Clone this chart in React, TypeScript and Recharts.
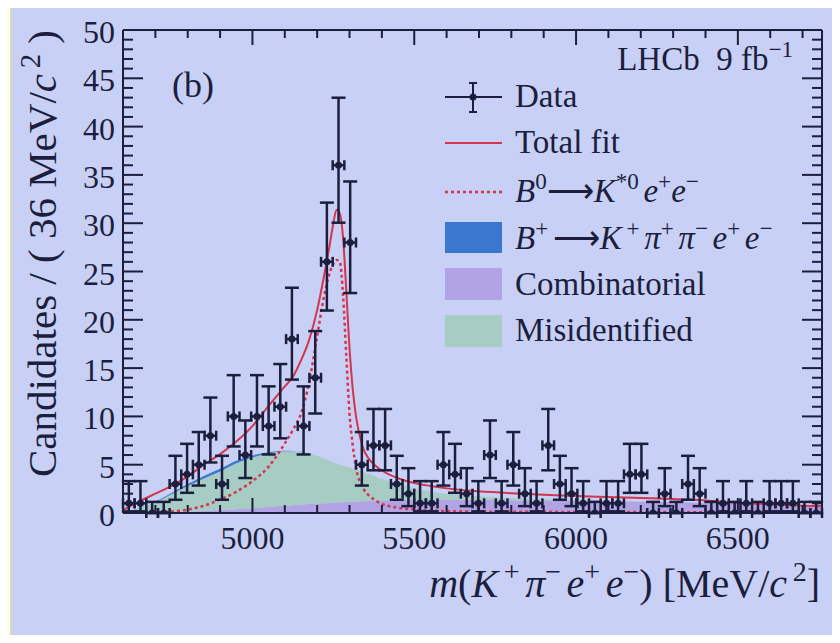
import React from 'react';
import { ComposedChart, XAxis, YAxis, Area, Line, Scatter, ErrorBar } from 'recharts';

// histogram: bin centres (36 MeV bins) and candidate counts
const binCenters = [
  4618, 4654, 4690, 4726, 4762, 4798, 4834, 4870, 4906, 4942,
  4978, 5014, 5050, 5086, 5122, 5158, 5194, 5230, 5266, 5302,
  5338, 5374, 5410, 5446, 5482, 5518, 5554, 5590, 5626, 5662,
  5698, 5734, 5770, 5806, 5842, 5878, 5914, 5950, 5986, 6022,
  6058, 6094, 6130, 6166, 6202, 6238, 6274, 6310, 6346, 6382,
  6418, 6454, 6490, 6526, 6562, 6598, 6634, 6670, 6706, 6742,
];
const counts = [
  1, 1, 0, 0, 3, 4, 5, 8, 3, 10,
  6, 10, 9, 11, 18, 9, 14, 26, 36, 28,
  5, 7, 7, 3, 2, 1, 1, 5, 4, 2,
  1, 6, 1, 5, 2, 1, 7, 3, 2, 1,
  0, 1, 1, 4, 4, 0, 2, 0, 3, 2,
  0, 1, 0, 1, 0, 1, 1, 1, 0, 0,
];
// 68% Poisson interval [low, high] per count, as drawn
const poisson68: Record<number, [number, number]> = {
  0: [0, 1.15], 1: [0.17, 3.3], 2: [0.71, 4.64], 3: [1.37, 5.92], 4: [2.09, 7.16],
  5: [2.84, 8.38], 6: [3.62, 9.58], 7: [4.42, 10.77], 8: [5.23, 11.95], 9: [6.06, 13.11],
  10: [6.89, 14.27], 11: [7.73, 15.42], 14: [10.3, 18.83], 18: [13.81, 23.32],
  26: [20.96, 32.13], 28: [22.77, 34.32], 36: [30.05, 42.99],
};

// fit curves sampled at these masses
const curveMass = [
  4600, 4650, 4700, 4750, 4800, 4850, 4900, 4950, 5000, 5050,
  5100, 5125, 5150, 5175, 5200, 5220, 5240, 5250, 5260, 5270,
  5280, 5290, 5300, 5310, 5320, 5340, 5360, 5380, 5400, 5450,
  5500, 5550, 5600, 5700, 5800, 5900, 6000, 6100, 6200, 6300,
  6400, 6500, 6600, 6700, 6760,
];
const totalFit = [
  0.3, 1.2, 2.0, 2.8, 3.8, 5.0, 6.1, 7.4, 9.0, 11.1,
  13.1, 14.1, 15.8, 17.9, 21.0, 24.3, 28.0, 30.0, 31.4, 31.0,
  28.5, 23.0, 17.0, 12.8, 10.0, 6.9, 5.6, 4.9, 4.4, 3.6,
  3.1, 2.8, 2.55, 2.25, 2.05, 1.9, 1.75, 1.65, 1.55, 1.45,
  1.3, 1.05, 0.9, 0.75, 0.7,
];
const signal = [
  0, 0, 0.05, 0.15, 0.35, 0.75, 1.4, 2.2, 3.3, 4.8,
  7.2, 8.6, 10.3, 13.5, 18.3, 22.2, 25.0, 25.8, 26.2, 26.0,
  22.5, 16.3, 10.3, 7.0, 4.7, 2.7, 1.8, 1.3, 0.95, 0.55,
  0.35, 0.25, 0.2, 0.15, 0.13, 0.12, 0.11, 0.1, 0.1, 0.09,
  0.09, 0.08, 0.08, 0.07, 0.07,
];
const combinatorial = [
  0, 0.02, 0.05, 0.1, 0.15, 0.22, 0.3, 0.4, 0.5, 0.62,
  0.75, 0.8, 0.86, 0.92, 0.97, 1.0, 1.04, 1.06, 1.08, 1.1,
  1.12, 1.14, 1.16, 1.17, 1.18, 1.22, 1.25, 1.27, 1.29, 1.32,
  1.34, 1.35, 1.36, 1.35, 1.33, 1.3, 1.27, 1.22, 1.16, 1.1,
  1.03, 0.96, 0.9, 0.84, 0.8,
];
const misidentified = [
  0, 0.45, 1.05, 1.85, 2.65, 3.35, 4.0, 4.75, 5.25, 5.55,
  5.65, 5.6, 5.45, 5.25, 4.95, 4.65, 4.35, 4.2, 4.05, 3.9,
  3.78, 3.66, 3.55, 3.43, 3.3, 3.05, 2.78, 2.5, 2.25, 1.7,
  1.22, 0.87, 0.6, 0.38, 0.22, 0.13, 0.08, 0.04, 0.02, 0,
  0, 0, 0, 0, 0,
];
const bplus = [
  0, 0.01, 0.05, 0.12, 0.2, 0.26, 0.28, 0.26, 0.2, 0.12,
  0.05, 0.03, 0.02, 0.01, 0, 0, 0, 0, 0, 0,
  0, 0, 0, 0, 0, 0, 0, 0, 0, 0,
  0, 0, 0, 0, 0, 0, 0, 0, 0, 0,
  0, 0, 0, 0, 0,
];

const xMajorTicks = [5000, 5500, 6000, 6500];
const xTicks = [
  4700, 4800, 4900, 5000, 5100, 5200, 5300, 5400, 5500, 5600, 5700,
  5800, 5900, 6000, 6100, 6200, 6300, 6400, 6500, 6600, 6700,
];
const yMajorTicks = [0, 5, 10, 15, 20, 25, 30, 35, 40, 45, 50];
const yTicks = Array.from({ length: 51 }, (_, i) => i);

const NAVY = '#1b1f3d';
const RED = '#d3354f';
const BG = '#c9d0f5';
const FONT = '"Liberation Serif", "Times New Roman", serif';

const curveRows = curveMass.map((m, i) => ({
  m,
  total: totalFit[i],
  sig: signal[i],
  comb: combinatorial[i],
  misid: misidentified[i],
  bplus: bplus[i],
}));

const points = binCenters.map((m, i) => {
  const n = counts[i];
  const [lo, hi] = poisson68[n];
  return { m, n, ey: [n - lo, hi - n], ex: 18 };
});

const BottomTick = (p: any) => {
  const major = xMajorTicks.includes(p.payload.value);
  return (
    <g>
      <line x1={p.x} x2={p.x} y1={p.y} y2={p.y - (major ? 15 : 8)} stroke={NAVY} strokeWidth={2} />
      {major && (
        <text x={p.x} y={p.y + 36} textAnchor="middle" fontSize={32} fontFamily={FONT} fill={NAVY}>
          {p.payload.value}
        </text>
      )}
    </g>
  );
};

const TopTick = (p: any) => {
  const major = xMajorTicks.includes(p.payload.value);
  return <line x1={p.x} x2={p.x} y1={p.y} y2={p.y + (major ? 15 : 8)} stroke={NAVY} strokeWidth={2} />;
};

const LeftTick = (p: any) => {
  const major = yMajorTicks.includes(p.payload.value);
  return (
    <g>
      <line x1={p.x} x2={p.x + (major ? 20 : 10)} y1={p.y} y2={p.y} stroke={NAVY} strokeWidth={2} />
      {major && (
        <text x={p.x - 8} y={p.y + 13} textAnchor="end" fontSize={32} fontFamily={FONT} fill={NAVY}>
          {p.payload.value}
        </text>
      )}
    </g>
  );
};

const RightTick = (p: any) => {
  const major = yMajorTicks.includes(p.payload.value);
  return <line x1={p.x} x2={p.x - (major ? 20 : 10)} y1={p.y} y2={p.y} stroke={NAVY} strokeWidth={2} />;
};

type Seg = { t: string; it?: boolean; sup?: boolean };

const MathText = ({ segs, size, ...rest }: { segs: Seg[]; size: number; [k: string]: any }) => {
  let up = false;
  return (
    <text fontSize={size} fontFamily={FONT} fill={NAVY} {...rest}>
      {segs.map((s, i) => {
        let dy: number | undefined;
        if (s.sup && !up) { dy = -size * 0.4; up = true; }
        else if (!s.sup && up) { dy = size * 0.4; up = false; }
        return (
          <tspan key={i} dy={dy} fontSize={s.sup ? size * 0.7 : size} fontStyle={s.it ? 'italic' : 'normal'}>
            {s.t}
          </tspan>
        );
      })}
    </text>
  );
};

const TH = '\u2009'; // thin space
const b0Label: Seg[] = [
  { t: 'B', it: true }, { t: '0', sup: true }, { t: '\u27f6' }, { t: 'K', it: true }, { t: '*0' + TH, sup: true },
  { t: 'e', it: true }, { t: '+', sup: true }, { t: 'e', it: true }, { t: '\u2212', sup: true },
];
const bplusLabel: Seg[] = [
  { t: 'B', it: true }, { t: '+' + TH, sup: true }, { t: '\u27f6' }, { t: 'K', it: true }, { t: TH + '+' + TH, sup: true },
  { t: '\u03c0', it: true }, { t: '+' + TH, sup: true }, { t: '\u03c0', it: true }, { t: '\u2212' + TH, sup: true },
  { t: 'e', it: true }, { t: '+' + TH, sup: true }, { t: 'e', it: true }, { t: '\u2212', sup: true },
];
const xTitle: Seg[] = [
  { t: 'm', it: true }, { t: '(' }, { t: 'K', it: true }, { t: TH + '+' + TH, sup: true }, { t: '\u03c0', it: true },
  { t: '\u2212' + TH, sup: true }, { t: 'e', it: true }, { t: '+' + TH, sup: true }, { t: 'e', it: true },
  { t: '\u2212', sup: true }, { t: ') [MeV/' }, { t: 'c', it: true }, { t: TH + '2', sup: true }, { t: ']' },
];
const yTitle: Seg[] = [
  { t: 'Candidates / ( 36 MeV/' }, { t: 'c', it: true }, { t: TH + '2', sup: true }, { t: ' )' },
];
const lumiLabel: Seg[] = [{ t: 'LHCb\u00a0\u00a09 fb' }, { t: '\u22121', sup: true }];

const Overlay = () => (
  <svg width={840} height={643} style={{ position: 'absolute', left: 0, top: 0, pointerEvents: 'none' }}>
    <text x={172} y={97} fontSize={36} fontFamily={FONT} fill={NAVY}>(b)</text>
    <MathText segs={lumiLabel} size={33} x={793} y={70} textAnchor="end" />

    {/* legend */}
    <line x1={445} x2={502} y1={97} y2={97} stroke={NAVY} strokeWidth={2} />
    <line x1={473} x2={473} y1={83} y2={112} stroke={NAVY} strokeWidth={2} />
    <line x1={469} x2={477} y1={83} y2={83} stroke={NAVY} strokeWidth={2} />
    <line x1={469} x2={477} y1={112} y2={112} stroke={NAVY} strokeWidth={2} />
    <circle cx={473} cy={97} r={3.5} fill={NAVY} />
    <text x={515} y={107} fontSize={33} fontFamily={FONT} fill={NAVY}>Data</text>

    <line x1={445} x2={502} y1={143} y2={143} stroke={RED} strokeWidth={2} />
    <text x={515} y={153} fontSize={33} fontFamily={FONT} fill={NAVY}>Total fit</text>

    <line x1={445} x2={502} y1={192} y2={192} stroke={RED} strokeWidth={2.5} strokeDasharray="3 3" />
    <MathText segs={b0Label} size={33} x={515} y={202} />

    <rect x={445} y={222} width={57} height={31} fill="#3a78d0" />
    <MathText segs={bplusLabel} size={33} x={515} y={249} />

    <rect x={445} y={268} width={57} height={32} fill="#b2a3e4" />
    <text x={515} y={295} fontSize={33} fontFamily={FONT} fill={NAVY}>Combinatorial</text>

    <rect x={445} y={315} width={57} height={32} fill="#a6ccc4" />
    <text x={515} y={341} fontSize={33} fontFamily={FONT} fill={NAVY}>Misidentified</text>

    {/* axis titles */}
    <MathText segs={xTitle} size={40} x={820} y={597} textAnchor="end" />
    <MathText segs={yTitle} size={41} x={0} y={0} textAnchor="end" transform="translate(56,30) rotate(-90)" />
  </svg>
);

export default function App() {
  return (
    <div style={{ position: 'relative', width: 840, height: 643, margin: -8, background: BG, overflow: 'hidden' }}>
      <div style={{ position: 'absolute', left: 0, top: 0, width: 840, height: 5, background: '#ffffff' }} />
      <div style={{ position: 'absolute', left: 0, top: 0, width: 10, height: 635, background: '#fffce8', borderRight: '1px solid #f0e07a' }} />
      <ComposedChart width={840} height={643} data={curveRows} margin={{ top: 0, right: 0, bottom: 0, left: 0 }}>
        <XAxis
          xAxisId="b" dataKey="m" type="number" domain={[4600, 6760]} allowDataOverflow
          ticks={xTicks} interval={0} tick={BottomTick} tickLine={false} tickSize={0} tickMargin={0}
          height={130} axisLine={{ stroke: NAVY, strokeWidth: 2 }}
        />
        <XAxis
          xAxisId="t" orientation="top" dataKey="m" type="number" domain={[4600, 6760]} allowDataOverflow
          ticks={xTicks} interval={0} tick={TopTick} tickLine={false} tickSize={0} tickMargin={0}
          height={30} axisLine={{ stroke: NAVY, strokeWidth: 2 }}
        />
        <YAxis
          yAxisId="l" type="number" domain={[0, 50]} allowDataOverflow
          ticks={yTicks} interval={0} tick={LeftTick} tickLine={false} tickSize={0} tickMargin={0}
          width={123} axisLine={{ stroke: NAVY, strokeWidth: 2 }}
        />
        <YAxis
          yAxisId="r" orientation="right" type="number" domain={[0, 50]} allowDataOverflow
          ticks={yTicks} interval={0} tick={RightTick} tickLine={false} tickSize={0} tickMargin={0}
          width={18} axisLine={{ stroke: NAVY, strokeWidth: 2 }}
        />
        <Area xAxisId="b" yAxisId="l" type="monotone" dataKey="comb" stackId="bkg" fill="#b2a3e4" fillOpacity={1} stroke="none" isAnimationActive={false} />
        <Area xAxisId="b" yAxisId="l" type="monotone" dataKey="misid" stackId="bkg" fill="#a6ccc4" fillOpacity={1} stroke="none" isAnimationActive={false} />
        <Area xAxisId="b" yAxisId="l" type="monotone" dataKey="bplus" stackId="bkg" fill="#3a78d0" fillOpacity={1} stroke="none" isAnimationActive={false} />
        <Line xAxisId="b" yAxisId="l" type="monotone" dataKey="sig" stroke={RED} strokeWidth={2.5} strokeDasharray="3 3" dot={false} isAnimationActive={false} />
        <Line xAxisId="b" yAxisId="l" type="monotone" dataKey="total" stroke={RED} strokeWidth={2} dot={false} isAnimationActive={false} />
        <Scatter
          xAxisId="b" yAxisId="l" data={points} dataKey="n" isAnimationActive={false}
          shape={(p: any) => <circle cx={p.cx} cy={p.cy} r={3.5} fill={NAVY} />}
        >
          <ErrorBar dataKey="ey" direction="y" width={7} stroke={NAVY} strokeWidth={2.5} />
          <ErrorBar dataKey="ex" direction="x" width={5} stroke={NAVY} strokeWidth={2.5} />
        </Scatter>
      </ComposedChart>
      <Overlay />
    </div>
  );
}
